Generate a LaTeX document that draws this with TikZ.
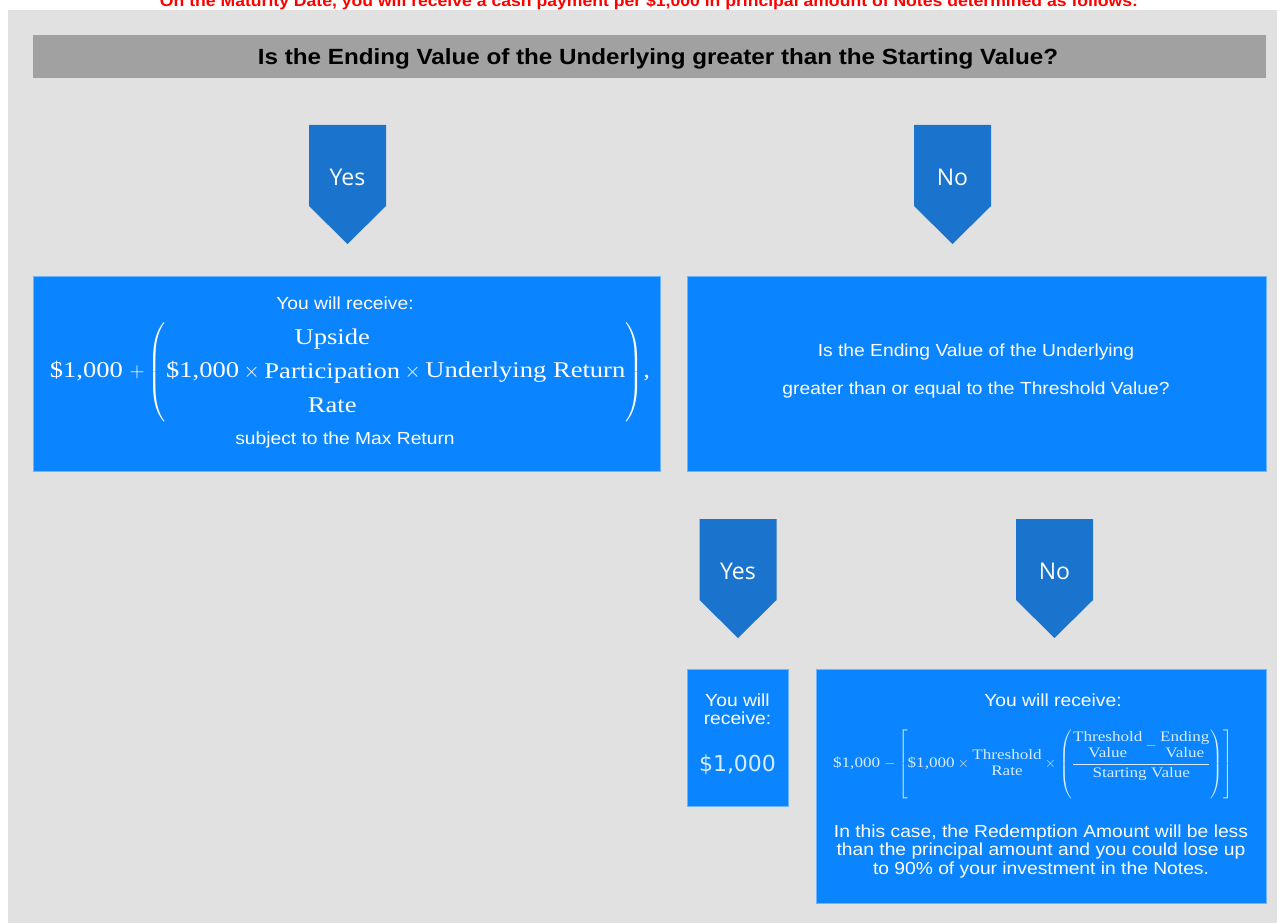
\documentclass[tikz,border=0pt]{standalone}
\usepackage{amsmath}
\usepackage{fontspec}
\setmainfont{Liberation Serif}
\newfontfamily\arialf[FakeStretch=1.1]{Liberation Sans}
\newfontfamily\serifw[FakeStretch=1.18]{Liberation Serif}
\newfontfamily\opensf{Open Sans}
\newfontfamily\dejavuf{DejaVu Sans}
\usetikzlibrary{positioning}
\definecolor{bggray}{RGB}{225,225,225}
\definecolor{bargray}{RGB}{161,161,161}
\definecolor{arrowblue}{RGB}{26,116,205}
\definecolor{boxblue}{RGB}{10,132,255}
\definecolor{paletxt}{RGB}{214,236,252}
\tikzset{
  boxnode/.style={fill=boxblue,draw=boxblue!60!white,line width=0.8pt,inner sep=0pt},
  wtxt/.style={text=white,font=\arialf\fontsize{17.5}{19}\selectfont,align=center,inner sep=0pt},
  arrowlbl/.style={text=white,font=\opensf\fontsize{23}{26}\selectfont,inner sep=0pt}
}

\begin{document}
\begin{tikzpicture}[x=1pt,y=-1pt]
\clip (0,0) rectangle (1277,923);
\fill[white] (0,0) rectangle (1277,923);
\fill[bggray] (8,10) rectangle (1277,923);
\node[anchor=base,text=red,font=\arialf\bfseries\fontsize{16}{18}\selectfont,inner sep=0pt] (intro) at (649,6.5) {On the Maturity Date, you will receive a cash payment per \$1,000 in principal amount of Notes determined as follows:};
\node[fill=bargray,minimum width=1233pt,minimum height=43pt,inner sep=0pt] (bar) at (649.5,57) {};
\node[anchor=base,font=\arialf\bfseries\fontsize{22}{24}\selectfont,inner sep=0pt] (quest) at (658,65) {Is the Ending Value of the Underlying greater than the Starting Value?};
\foreach \cx/\ty/\lab/\nm in {347.5/125/Yes/yesa,952.5/125/No/noa,738/519/Yes/yesb,1054.5/519/No/nob}{
  \fill[arrowblue] (\cx-38.5,\ty) -- (\cx+38.5,\ty) -- (\cx+38.5,\ty+81) -- (\cx,\ty+119) -- (\cx-38.5,\ty+81) -- cycle;
  \node[arrowlbl] (\nm) at (\cx,\ty+52) {\lab};
}
\node[boxnode,minimum width=627pt,minimum height=195pt] (upbox) at (346.5,373.5) {};
\node[boxnode,minimum width=579pt,minimum height=195pt] (askbox) at (976.5,373.5) {};
\node[boxnode,minimum width=101pt,minimum height=137pt] (parbox) at (737.5,737.5) {};
\node[boxnode,minimum width=450pt,minimum height=234pt] (lossbox) at (1041,786) {};
\node[wtxt,anchor=base] (upa) at (345,309) {You will receive:};
\node[text=white,inner sep=0pt,font=\serifw\fontsize{22.5}{34}\selectfont] (upf) at (350,372)
  {\$1,000 $+\left(\mbox{\$1,000}\times\begin{tabular}{@{}c@{}}Upside\\Participation\\Rate\end{tabular}\times\mbox{Underlying Return}\right)$,};
\node[wtxt,anchor=base] (upb) at (345,444) {subject to the Max Return};
\node[wtxt,font=\arialf\fontsize{17.5}{38}\selectfont] (askt) at (976,371) {Is the Ending Value of the Underlying\\greater than or equal to the Threshold Value?};
\node[wtxt,font=\arialf\fontsize{17.5}{18}\selectfont] (para) at (737.5,709) {You will\\receive:};
\node[text=paletxt,inner sep=0pt,font=\dejavuf\fontsize{22}{26}\selectfont] (parb) at (737.5,765) {\$1,000};
\node[wtxt] (lossa) at (1053,700) {You will receive:};
\node[text=paletxt,inner sep=0pt,font=\serifw\fontsize{14.5}{16}\selectfont] (lossf) at (1033,764)
  {\$1,000 $-\left[\mbox{\$1,000}\times\begin{tabular}{@{}c@{}}Threshold\\Rate\end{tabular}\times\left(\dfrac{\begin{tabular}{@{}c@{}}Threshold\\Value\end{tabular}-\begin{tabular}{@{}c@{}}Ending\\Value\end{tabular}}{\mbox{Starting Value}}\right)\right]$};
\node[wtxt,font=\arialf\fontsize{17.5}{18.5}\selectfont] (lossb) at (1041,851) {In this case, the Redemption Amount will be less\\than the principal amount and you could lose up\\to 90\% of your investment in the Notes.};
\end{tikzpicture}
\end{document}
